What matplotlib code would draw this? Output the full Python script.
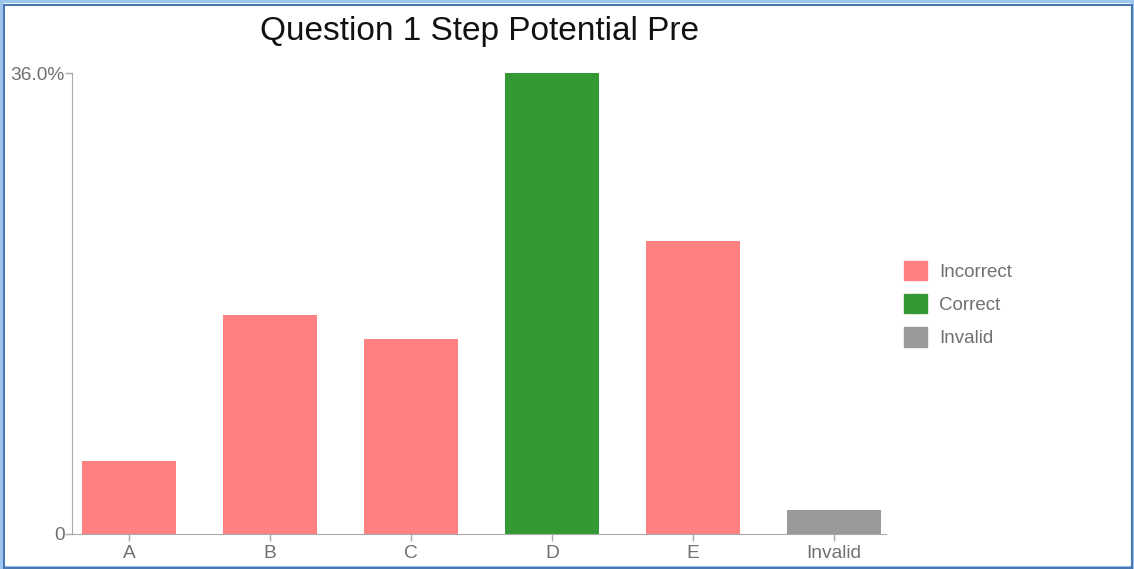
import matplotlib.pyplot as plt
from matplotlib.patches import Rectangle, Patch

categories = ['A', 'B', 'C', 'D', 'E', 'Invalid']
values = [5.7, 17.1, 15.2, 36.0, 22.9, 1.9]
status = ['Incorrect', 'Incorrect', 'Incorrect', 'Correct', 'Incorrect', 'Invalid']
colors = {'Incorrect': '#ff8080', 'Correct': '#339933', 'Invalid': '#999999'}
y_ticks = [0, 36.0]
y_labels = ['0', '36.0%']

plt.rcParams['font.family'] = ['Liberation Sans', 'DejaVu Sans']

W, H = 1134, 569
fig = plt.figure(figsize=(W / 100, H / 100), dpi=100)
ax = fig.add_axes([72 / W, 1 - 534 / H, (886 - 72) / W, (534 - 73) / H])

x = range(len(categories))
ax.bar(x, values, width=0.667, color=[colors[s] for s in status])
ax.set_xlim(-0.404, 5.37)
ax.set_ylim(0, 36.0)

ax.set_xticks(list(x))
ax.set_xticklabels(categories)
ax.set_yticks(y_ticks)
ax.set_yticklabels(y_labels)
ax.tick_params(colors='#aaaaaa', labelcolor='#707070', labelsize=13.8, length=5, width=1)
ax.tick_params(axis='y', pad=0.3)
ax.tick_params(axis='x', pad=3)
for side in ['top', 'right']:
    ax.spines[side].set_visible(False)
for side in ['left', 'bottom']:
    ax.spines[side].set_color('#aaaaaa')

fig.text(480 / W, 1 - 31.5 / H, 'Question 1 Step Potential Pre', ha='center', va='center',
         fontsize=24, color='#111111')

handles = [Patch(color=colors[k]) for k in ['Incorrect', 'Correct', 'Invalid']]
fig.legend(handles, ['Incorrect', 'Correct', 'Invalid'], loc='center left',
           bbox_to_anchor=(904 / W, 1 - 304 / H), frameon=False, fontsize=13.5,
           labelcolor='#707070', handlelength=1.22, handleheight=1.2, handletextpad=0.65,
           labelspacing=0.72, borderpad=0, borderaxespad=0)

# blue frame around the chart
fig.patches.append(Rectangle((1 / W, 1 / H), 1 - 2 / W, 1 - 2 / H, transform=fig.transFigure,
                             fill=False, edgecolor='#9ec5ee', linewidth=3))
fig.patches.append(Rectangle((4 / W, 1.5 / H), 1128 / W, 1 - 6 / H, transform=fig.transFigure,
                             fill=False, edgecolor='#4a78b0', linewidth=1.5))

fig.savefig('out.png', dpi=100)
